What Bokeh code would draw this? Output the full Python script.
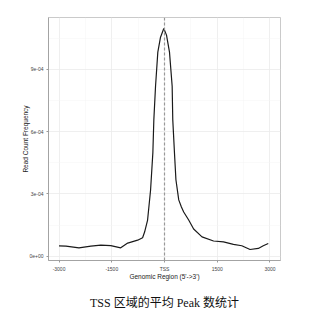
from bokeh.plotting import figure
from bokeh.models import FixedTicker, Range1d, Span, Title
from bokeh.embed import file_html
from bokeh.resources import INLINE

# Data
positions = [-3000, -2802, -2434, -2094, -1811, -1528, -1245, -1047, -764, -623,
             -566, -481, -396, -331, -303, -255, -190, -113, -20, 57,
             142, 218, 235, 283, 325, 405, 481, 546, 688, 829,
             1067, 1395, 1678, 1961, 2199, 2434, 2669, 2810, 2952]
frequency = [4.99e-5, 4.84e-5, 4.0e-5, 4.8e-5, 5.3e-5, 5.1e-5, 4.0e-5, 6.3e-5, 7.7e-5, 8.9e-5,
             1.16e-4, 1.74e-4, 3.19e-4, 4.99e-4, 6.58e-4, 8.19e-4, 9.83e-4, 1.055e-3, 1.097e-3, 1.065e-3,
             9.83e-4, 8.19e-4, 6.58e-4, 4.99e-4, 3.68e-4, 2.71e-4, 2.37e-4, 2.13e-4, 1.74e-4, 1.31e-4,
             9.3e-5, 7.3e-5, 6.9e-5, 5.7e-5, 5.0e-5, 3.2e-5, 3.7e-5, 5.0e-5, 6.1e-5]

x_ticks = [-3000, -1500, 0, 1500, 3000]
x_tick_labels = ["-3000", "-1500", "TSS", "1500", "3000"]
x_minor = [-2250, -750, 750, 2250]
y_ticks = [0, 3e-4, 6e-4, 9e-4]
y_tick_labels = ["0e+00", "3e-04", "6e-04", "9e-04"]
y_minor = [1.5e-4, 4.5e-4, 7.5e-4, 1.05e-3]

caption = "TSS 区域的平均 Peak 数统计"

p = figure(width=321, height=321, output_backend="svg", toolbar_location=None,
           x_range=Range1d(-3300, 3300), y_range=Range1d(-2.1e-5, 1.15e-3),
           min_border_left=48, min_border_right=41, min_border_top=17, min_border_bottom=61)
p.background_fill_color = "white"
p.border_fill_color = "white"
p.outline_line_color = "#bdbdbd"
p.outline_line_width = 0.8

p.xaxis.ticker = FixedTicker(ticks=x_ticks, minor_ticks=x_minor)
p.yaxis.ticker = FixedTicker(ticks=y_ticks, minor_ticks=y_minor)
p.xaxis.major_label_overrides = {t: l for t, l in zip(x_ticks, x_tick_labels)}
p.yaxis.major_label_overrides = {t: l for t, l in zip(y_ticks, y_tick_labels)}

for ax in (p.xaxis, p.yaxis):
    ax.axis_line_color = "#999999"
    ax.axis_line_width = 0.8
    ax.major_tick_line_color = "#999999"
    ax.major_tick_in = 0
    ax.major_tick_out = 2
    ax.minor_tick_line_color = None
    ax.major_label_text_font = "Liberation Sans"
    ax.major_label_text_font_size = "5px"
    ax.major_label_text_color = "#444444"
    ax.axis_label_text_font = "Liberation Sans"
    ax.axis_label_text_font_size = "6.5px"
    ax.axis_label_text_font_style = "normal"
    ax.axis_label_text_color = "#222222"
    ax.major_label_standoff = 1

p.xaxis.axis_label = "Genomic Region (5'->3')"
p.yaxis.axis_label = "Read Count Frequency"
p.xaxis.axis_label_standoff = -2
p.yaxis.axis_label_standoff = -3

p.xgrid.grid_line_color = "#ebebeb"
p.ygrid.grid_line_color = "#ebebeb"
p.xgrid.grid_line_width = 0.8
p.ygrid.grid_line_width = 0.8
p.xgrid.minor_grid_line_color = "#f4f4f4"
p.ygrid.minor_grid_line_color = "#f4f4f4"
p.xgrid.minor_grid_line_width = 0.5
p.ygrid.minor_grid_line_width = 0.5

p.add_layout(Span(location=0, dimension="height", line_color="#999999",
                  line_dash="3 2", line_width=1.2))

p.line(positions, frequency, line_color="#1a1a1a", line_width=1.2)

p.add_layout(Title(text=caption, align="center", standoff=23,
                   text_font="Liberation Serif, Noto Sans CJK SC", text_font_size="12px",
                   text_font_style="normal", text_color="#111111"), "below")

open("out.html", "w").write(file_html(p, INLINE))
